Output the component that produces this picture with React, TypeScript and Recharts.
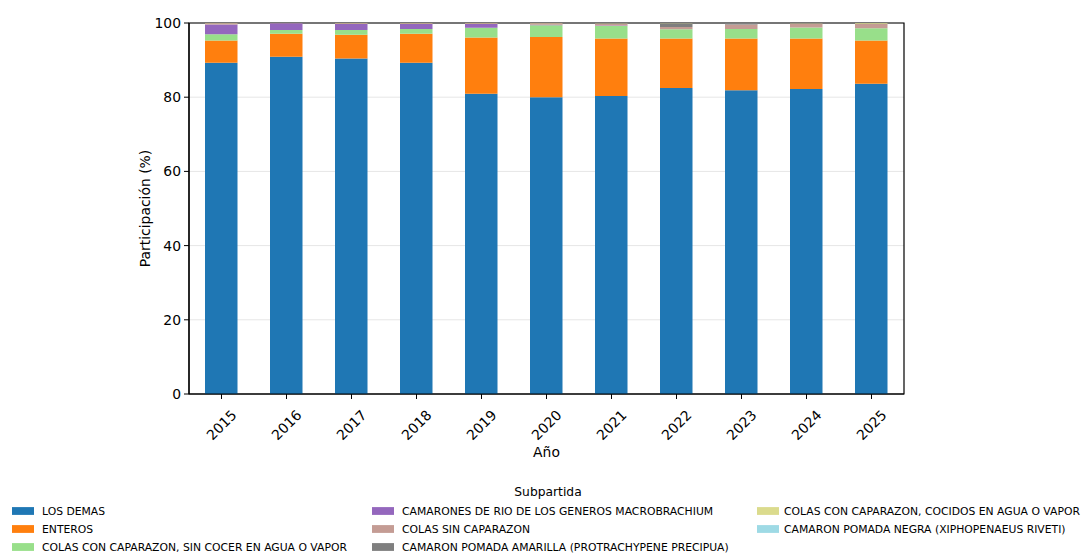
import React from "react";
import { BarChart, Bar, XAxis, YAxis, CartesianGrid, Legend, ReferenceArea } from "recharts";

const years = ["2015", "2016", "2017", "2018", "2019", "2020", "2021", "2022", "2023", "2024", "2025"];

const seriesNames = [
  "LOS DEMAS",
  "ENTEROS",
  "COLAS CON CAPARAZON, SIN COCER EN AGUA O VAPOR",
  "CAMARONES DE RIO DE LOS GENEROS MACROBRACHIUM",
  "COLAS SIN CAPARAZON",
  "CAMARON POMADA AMARILLA (PROTRACHYPENE PRECIPUA)",
  "COLAS CON CAPARAZON, COCIDOS EN AGUA O VAPOR",
  "CAMARON POMADA NEGRA (XIPHOPENAEUS RIVETI)",
];

const seriesColors = ["#1f77b4", "#ff7f0e", "#98df8a", "#9467bd", "#c49c94", "#7f7f7f", "#dbdb8d", "#9edae5"];

const losDemas = [89.3, 90.9, 90.4, 89.3, 80.9, 80.0, 80.3, 82.5, 81.9, 82.2, 83.6];
const enteros = [6.0, 6.2, 6.4, 7.8, 15.2, 16.2, 15.5, 13.3, 13.9, 13.6, 11.7];
const colasSinCocer = [1.7, 1.0, 1.3, 1.3, 2.6, 3.2, 3.4, 2.5, 2.6, 3.0, 3.3];
const camaronesRio = [2.6, 1.8, 1.6, 1.3, 1.0, 0.1, 0.1, 0.0, 0.0, 0.0, 0.0];
const colasSinCaparazon = [0.3, 0.1, 0.2, 0.2, 0.2, 0.4, 0.5, 0.6, 1.2, 1.0, 1.1];
const pomadaAmarilla = [0.0, 0.0, 0.0, 0.0, 0.0, 0.0, 0.1, 1.0, 0.4, 0.1, 0.1];
const colasCocidos = [0.1, 0.0, 0.1, 0.1, 0.1, 0.1, 0.1, 0.1, 0.0, 0.1, 0.2];
const pomadaNegra = [0.0, 0.0, 0.0, 0.0, 0.0, 0.0, 0.0, 0.0, 0.0, 0.0, 0.0];

const seriesValues = [
  losDemas,
  enteros,
  colasSinCocer,
  camaronesRio,
  colasSinCaparazon,
  pomadaAmarilla,
  colasCocidos,
  pomadaNegra,
];

const yTicks = [0, 20, 40, 60, 80, 100];

const data = years.map((y, i) => {
  const row: Record<string, any> = { year: y };
  seriesNames.forEach((n, k) => {
    row["s" + k] = seriesValues[k][i];
  });
  return row;
});

const FONT = "DejaVu Sans";

const XTick = (props: any) => {
  const { x, y, payload } = props;
  return (
    <g transform={`translate(${x},${y + 24})`}>
      <text
        x={0}
        y={0}
        transform="rotate(-45)"
        textAnchor="middle"
        dominantBaseline="central"
        fontFamily={FONT}
        fontSize={13.9}
        fill="#000"
      >
        {payload.value}
      </text>
    </g>
  );
};

const LegendContent = () => {
  const cols = [
    { patchX: 12, textX: 42, items: [0, 1, 2] },
    { patchX: 372, textX: 402, items: [3, 4, 5] },
    { patchX: 757, textX: 784, items: [6, 7] },
  ];
  const rowY = [511, 529, 547];
  const top = 480;
  return (
    <svg width={1084} height={74} style={{ display: "block" }}>
      <text
        x={548}
        y={492 - top}
        textAnchor="middle"
        dominantBaseline="central"
        fontFamily={FONT}
        fontSize={12.3}
        fill="#000"
      >
        Subpartida
      </text>
      {cols.map((c, ci) =>
        c.items.map((idx, ri) => (
          <g key={`${ci}-${ri}`}>
            <rect x={c.patchX} y={rowY[ri] - top - 3.9} width={22} height={7.8} fill={seriesColors[idx]} />
            <text
              x={c.textX}
              y={rowY[ri] - top}
              dominantBaseline="central"
              fontFamily={FONT}
              fontSize={10.8}
              fill="#000"
            >
              {seriesNames[idx]}
            </text>
          </g>
        ))
      )}
    </svg>
  );
};

const YLabel = (props: any) => {
  const vb = props.viewBox || {};
  const cx = vb.x + 16;
  const cy = vb.y + vb.height / 2;
  return (
    <text
      x={cx}
      y={cy}
      transform={`rotate(-90, ${cx}, ${cy})`}
      textAnchor="middle"
      dominantBaseline="central"
      fontFamily={FONT}
      fontSize={13.9}
      fill="#000"
    >
      Participación (%)
    </text>
  );
};

const XLabel = (props: any) => {
  const vb = props.viewBox || {};
  const cx = vb.x + vb.width / 2;
  const cy = vb.y + 58;
  return (
    <text x={cx} y={cy} textAnchor="middle" dominantBaseline="central" fontFamily={FONT} fontSize={13.9} fill="#000">
      Año
    </text>
  );
};

export default function App() {
  return (
    <div style={{ position: "absolute", left: 0, top: 0, width: 1084, height: 554, background: "#fff" }}>
      <BarChart
        width={1084}
        height={554}
        data={data}
        margin={{ top: 23, right: 180, left: 129, bottom: 100 }}
        barSize={32.5}
      >
        <CartesianGrid vertical={false} stroke="#e6e6e6" strokeWidth={1} />
        <XAxis
          dataKey="year"
          height={60}
          tick={<XTick />}
          tickSize={5}
          tickLine={{ stroke: "#000" }}
          axisLine={{ stroke: "#000", strokeWidth: 1.2 }}
          interval={0}
          label={<XLabel />}
        />
        <YAxis
          width={60}
          domain={[0, 100]}
          ticks={yTicks}
          tickSize={5}
          tickMargin={3}
          tickLine={{ stroke: "#000" }}
          axisLine={{ stroke: "#000", strokeWidth: 1.2 }}
          tick={{ fontFamily: FONT, fontSize: 13.9, fill: "#000" }}
          label={<YLabel />}
        />
        {seriesNames.map((n, k) => (
          <Bar
            key={n}
            dataKey={"s" + k}
            name={n}
            stackId="a"
            fill={seriesColors[k]}
            isAnimationActive={false}
          />
        ))}
        <ReferenceArea y1={0} y2={100} fill="none" stroke="#000" strokeWidth={1.2} ifOverflow="visible" />
        <Legend
          layout="horizontal"
          verticalAlign="middle"
          align="center"
          content={<LegendContent />}
          wrapperStyle={{ position: "absolute", left: 0, top: 480, width: 1084, height: 74 }}
        />
      </BarChart>
    </div>
  );
}
